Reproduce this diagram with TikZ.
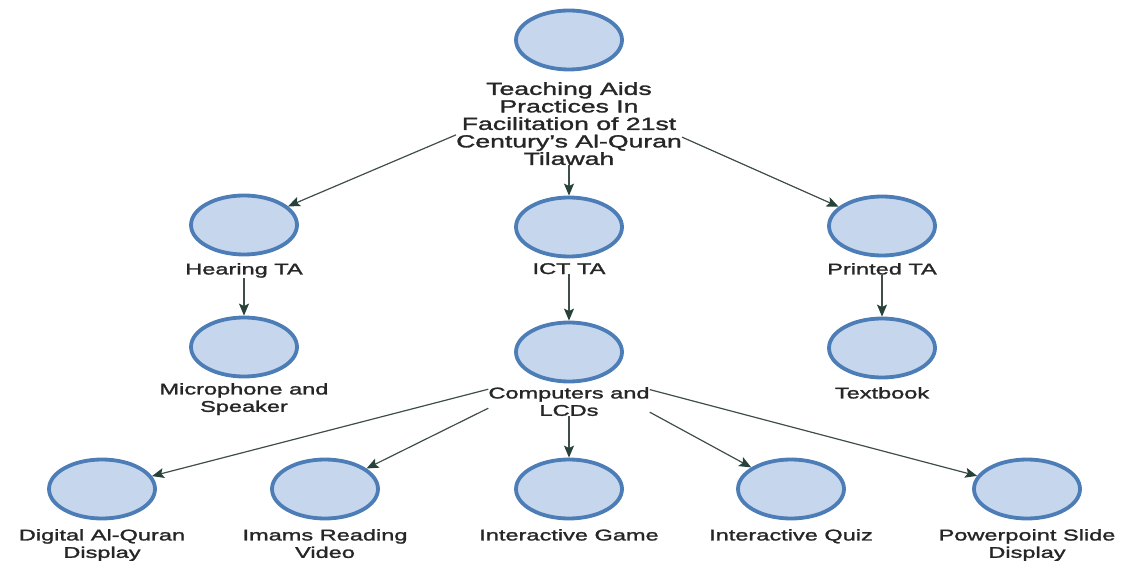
\documentclass[tikz,border=0pt]{standalone}
\usepackage{fontspec}
\newfontfamily\lblfont[FakeStretch=1.52,FakeBold=1.6]{Liberation Sans}
\usetikzlibrary{shapes.geometric,arrows.meta,fit}
\definecolor{ringc}{RGB}{77,125,182}
\definecolor{fillc}{RGB}{198,214,236}
\definecolor{edgec}{RGB}{64,78,74}
\definecolor{tipc}{RGB}{38,66,58}
\definecolor{txtc}{RGB}{38,38,38}
\begin{document}
\begin{tikzpicture}[x=1pt,y=1pt,
  topic/.style={ellipse, draw=ringc, fill=fillc, line width=3.8pt, minimum width=106pt, minimum height=59pt, inner sep=0pt},
  lbl/.style={anchor=north, inner sep=0pt, align=center, text=txtc, font=\lblfont\fontsize{15.5}{17.4}\selectfont},
  rootlbl/.style={lbl, font=\lblfont\fontsize{17.5}{17.5}\selectfont},
  grp/.style={inner sep=0pt, outer sep=0pt},
  link/.style={draw=edgec, line width=1.2pt, -{Stealth[length=12pt,width=10pt,inset=2.5pt,color=tipc]}}
]
\useasboundingbox[fill=white] (0,0) rectangle (1126,560);

% ellipses
\node[topic] (root)  at (569,520) {};
\node[topic] (hear)  at (244,335) {};
\node[topic] (ict)   at (569,333) {};
\node[topic] (print) at (882,334) {};
\node[topic] (mic)   at (244,213) {};
\node[topic] (comp)  at (569,208) {};
\node[topic] (text)  at (882,212) {};
\node[topic] (dig)   at (102,71) {};
\node[topic] (imam)  at (325,71) {};
\node[topic] (game)  at (569,71) {};
\node[topic] (quiz)  at (791,71) {};
\node[topic] (power) at (1027,71) {};

% labels
\node[rootlbl] (rootL) at (569,478) {Teaching Aids\\Practices In\\Facilitation of 21st\\Century’s Al-Quran\\Tilawah};
\node[lbl] (hearL)  at (244,297) {Hearing TA};
\node[lbl] (ictL)   at (569,297) {ICT TA};
\node[lbl] (printL) at (882,297) {Printed TA};
\node[lbl] (micL)   at (244,177) {Microphone and\\Speaker};
\node[lbl] (compL)  at (569,173) {Computers and\\LCDs};
\node[lbl] (textL)  at (882,173) {Textbook};
\node[lbl] (digL)   at (102,31) {Digital Al-Quran\\Display};
\node[lbl] (imamL)  at (325,31) {Imams Reading\\Video};
\node[lbl] (gameL)  at (569,31) {Interactive Game};
\node[lbl] (quizL)  at (791,31) {Interactive Quiz};
\node[lbl] (powerL) at (1027,31) {Powerpoint Slide\\Display};

% groups (ellipse + label) used as edge sources
\node[grp, fit=(root)(rootL)] (rootB) {};
\node[grp, fit=(hear)(hearL)] (hearB) {};
\node[grp, fit=(ict)(ictL)] (ictB) {};
\node[grp, fit=(print)(printL)] (printB) {};
\node[grp, fit=(comp)(compL)] (compB) {};

% connectors
\draw[link] (rootB) -- (hear);
\draw[link] (rootB) -- (ict);
\draw[link] (rootB) -- (print);
\draw[link] (hearB) -- (mic);
\draw[link] (ictB) -- (comp);
\draw[link] (printB) -- (text);
\draw[link] (compB) -- (dig);
\draw[link] (compB) -- (imam);
\draw[link] (compB) -- (game);
\draw[link] (compB) -- (quiz);
\draw[link] (compB) -- (power);
\end{tikzpicture}
\end{document}
